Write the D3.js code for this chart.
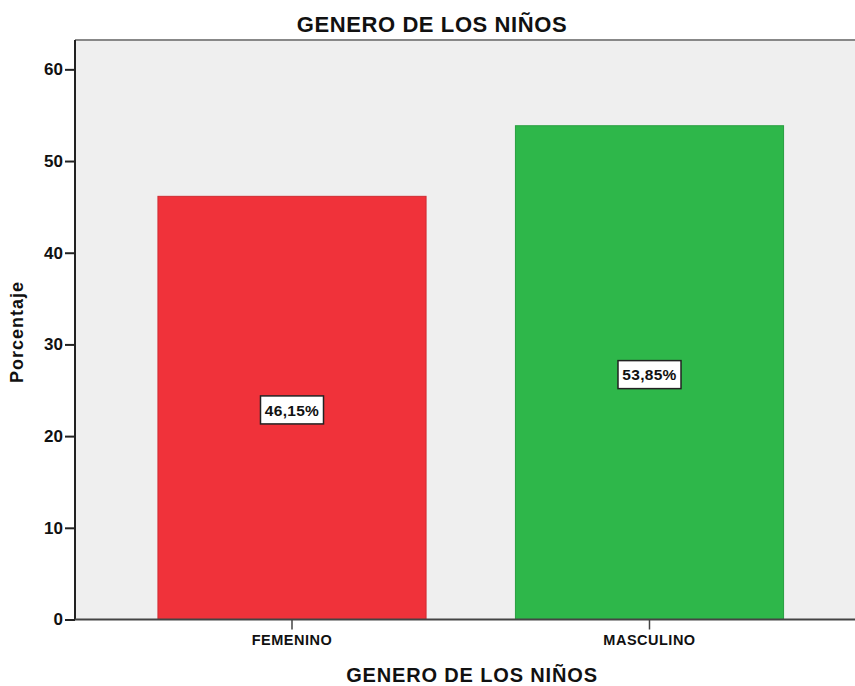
<!DOCTYPE html>
<html>
<head>
<meta charset="utf-8">
<script src="https://cdn.jsdelivr.net/npm/d3@7"></script>
<style>
  body { margin: 0; background: #fff; }
  text { font-family: "Liberation Sans", Arial, sans-serif; font-weight: bold; fill: #111; }
</style>
</head>
<body>
<div class="chart"></div>
<script>
var categories = ["FEMENINO", "MASCULINO"];
var values = [46.15, 53.85];
var valueLabels = ["46,15%", "53,85%"];
var colors = ["#f0323a", "#2eb74a"];
var yTicks = [0, 10, 20, 30, 40, 50, 60];

var width = 855, height = 686;
var margin = {top: 40, left: 75};

var svg = d3.select(".chart")
    .append("svg")
    .attr("width", width)
    .attr("height", height);

var y = d3.scaleLinear().domain([0, 63.2]).range([619.5, margin.top]);
var x = d3.scaleBand().domain(categories)
    .range([margin.left, 866.5])
    .paddingInner(0.25)
    .paddingOuter(0.232);

// plot background
svg.append("rect")
    .attr("x", margin.left)
    .attr("y", margin.top)
    .attr("width", width - margin.left)
    .attr("height", y(0) - margin.top)
    .attr("fill", "#efefef");

// top frame line
svg.append("line")
    .attr("x1", margin.left).attr("x2", width)
    .attr("y1", margin.top).attr("y2", margin.top)
    .attr("stroke", "#888").attr("stroke-width", 2);

// bars
svg.selectAll(".bar")
    .data(values)
    .enter().append("rect")
    .attr("class", "bar")
    .attr("x", function(d, i) { return x(categories[i]); })
    .attr("y", function(d) { return y(d); })
    .attr("width", x.bandwidth())
    .attr("height", function(d) { return y(0) - y(d); })
    .attr("fill", function(d, i) { return colors[i]; })
    .attr("stroke", function(d, i) { return d3.color(colors[i]).darker(0.4); })
    .attr("stroke-width", 1);

// value labels in boxes
var lab = svg.selectAll(".vlab")
    .data(values)
    .enter().append("g")
    .attr("class", "vlab")
    .attr("transform", function(d, i) {
        return "translate(" + (x(categories[i]) + x.bandwidth() / 2) + "," + (y(d / 2) + 2) + ")";
    });
lab.append("rect")
    .attr("x", -31.5).attr("y", -14)
    .attr("width", 63).attr("height", 28)
    .attr("fill", "#fff").attr("stroke", "#222").attr("stroke-width", 1.5);
lab.append("text")
    .attr("text-anchor", "middle")
    .attr("dy", "0.36em")
    .style("font-size", "15.5px")
    .style("letter-spacing", "0.3px")
    .text(function(d, i) { return valueLabels[i]; });

// y axis
var yAxis = d3.axisLeft(y).tickValues(yTicks).tickSize(10).tickPadding(2);
var gy = svg.append("g")
    .attr("transform", "translate(" + margin.left + ",0)")
    .call(yAxis);
gy.select(".domain").attr("stroke", "#222").attr("stroke-width", 2)
    .attr("d", "M0," + margin.top + "V" + y(0));
gy.selectAll(".tick line").attr("stroke", "#222").attr("stroke-width", 2);
gy.selectAll(".tick text")
    .style("font-size", "17px")
    .style("font-family", "'Liberation Sans', Arial, sans-serif")
    .style("font-weight", "bold")
    .attr("fill", "#111");

// x axis
var xAxis = d3.axisBottom(x).tickSize(10).tickPadding(5);
var gx = svg.append("g")
    .attr("transform", "translate(0," + y(0) + ")")
    .call(xAxis);
gx.select(".domain").attr("stroke", "#444").attr("stroke-width", 2)
    .attr("d", "M" + margin.left + ",0H" + width);
gx.selectAll(".tick line").attr("stroke", "#444").attr("stroke-width", 1.5);
gx.selectAll(".tick text")
    .style("font-size", "14.5px")
    .style("letter-spacing", "0.5px")
    .style("font-family", "'Liberation Sans', Arial, sans-serif")
    .style("font-weight", "bold")
    .attr("fill", "#111");

// title
svg.append("text")
    .attr("x", 432).attr("y", 32)
    .attr("text-anchor", "middle")
    .style("font-size", "22px")
    .style("letter-spacing", "0.6px")
    .text("GENERO DE LOS NIÑOS");

// x title
svg.append("text")
    .attr("x", 472).attr("y", 682)
    .attr("text-anchor", "middle")
    .style("font-size", "20px")
    .style("letter-spacing", "0.85px")
    .text("GENERO DE LOS NIÑOS");

// y title
svg.append("text")
    .attr("transform", "translate(23,332) rotate(-90)")
    .attr("text-anchor", "middle")
    .style("font-size", "18px")
    .style("letter-spacing", "1px")
    .text("Porcentaje");
</script>
</body>
</html>
